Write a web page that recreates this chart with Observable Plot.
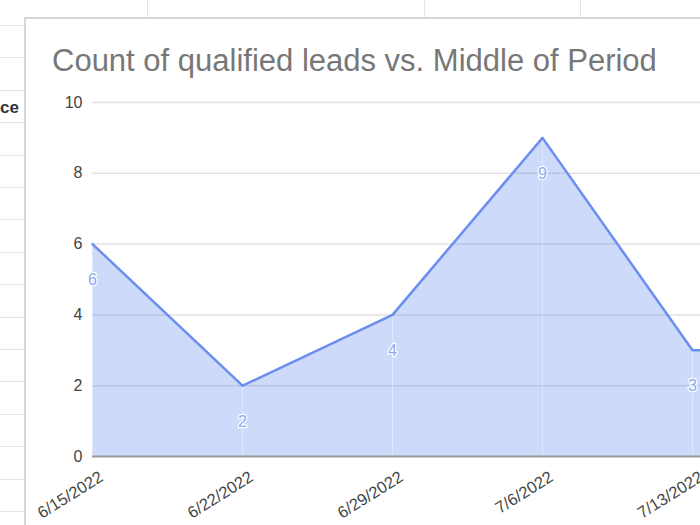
<!DOCTYPE html>
<html><head><meta charset="utf-8">
<script src="https://cdn.jsdelivr.net/npm/d3@7"></script>
<script src="https://cdn.jsdelivr.net/npm/@observablehq/plot@0.6"></script>
<style>
html,body{margin:0;padding:0;width:700px;height:525px;overflow:hidden;background:#fff;font-family:"Liberation Sans",Arial,sans-serif;}
.hl{position:absolute;left:0;width:25px;height:1px;background:#e4e4e4;}
.vl{position:absolute;top:0;height:18px;width:1px;background:#e4e4e4;}
#ce{position:absolute;left:0px;top:98px;font-size:17px;font-weight:bold;color:#333;}
#card{position:absolute;left:24px;top:17px;width:800px;height:600px;border-left:2px solid #d6d6d6;border-top:2px solid #d6d6d6;background:#fff;overflow:hidden;}
#title{position:absolute;left:52px;top:43px;font-size:31px;color:#777;white-space:nowrap;}
#chart{position:absolute;left:0;top:0;}
#chart svg{max-width:none !important;}
</style>
</head><body>
<div id="sheet"></div>
<div id="ce">ce</div>
<div id="card"></div>
<div id="title">Count of qualified leads vs. Middle of Period</div>
<div id="chart"></div>
<script>
const dates = ["2022-06-15", "2022-06-22", "2022-06-29", "2022-07-06", "2022-07-13", "2022-07-20"];
const leads = [6, 2, 4, 9, 3, 3];
const yTicks = [0, 2, 4, 6, 8, 10];
const tickDates = dates.slice(0, 5);

// spreadsheet background decoration
const sheet = document.getElementById("sheet");
for (let y = 25; y < 525; y += 32.4) {
  const d = document.createElement("div"); d.className = "hl"; d.style.top = Math.round(y) + "px"; sheet.appendChild(d);
}
[147, 424, 580].forEach(x => {
  const d = document.createElement("div"); d.className = "vl"; d.style.left = x + "px"; sheet.appendChild(d);
});

const data = dates.map((d, i) => ({date: new Date(d), leads: leads[i]}));
const shown = data.slice(0, 5);
const fmt = d3.utcFormat("%-m/%-d/%Y");

const chart = Plot.plot({
  width: 760, height: 525,
  marginLeft: 92, marginRight: 0, marginTop: 102, marginBottom: 69,
  style: {background: "transparent", fontFamily: "'Liberation Sans', Arial, sans-serif", overflow: "visible", maxWidth: "none"},
  x: {type: "utc", domain: [new Date(dates[0]), new Date(dates[4])], range: [92, 692]},
  y: {domain: [0, 10]},
  marks: [
    Plot.ruleY(yTicks.filter(t => t > 0), {stroke: "#e2e2e2", strokeWidth: 1.5}),
    Plot.areaY(data, {x: "date", y: "leads", fill: "#4a7bec", fillOpacity: 0.28}),
    Plot.ruleX(data, {x: "date", y1: 0, y2: "leads", stroke: "#ffffff", strokeOpacity: 0.35}),
    Plot.ruleY([0], {stroke: "#9a9a9a", strokeWidth: 2}),
    Plot.lineY(data, {x: "date", y: "leads", stroke: "#6b8ef0", strokeWidth: 2.5}),
    Plot.text(shown, {x: "date", y: "leads", text: d => String(d.leads), dy: 36, fill: "#8eaaf3", stroke: "white", strokeWidth: 2.5, fontSize: 16}),
    Plot.axisY({ticks: yTicks, tickSize: 0, tickPadding: 10, fontSize: 16, fill: "#444", label: null}),
    Plot.axisX({ticks: tickDates.map(d => new Date(d)), tickFormat: fmt, tickSize: 0, tickPadding: 19, tickRotate: -32, dx: 9, fontSize: 16.5, fill: "#444", label: null})
  ]
});
document.getElementById("chart").appendChild(chart);
</script>
</body></html>
